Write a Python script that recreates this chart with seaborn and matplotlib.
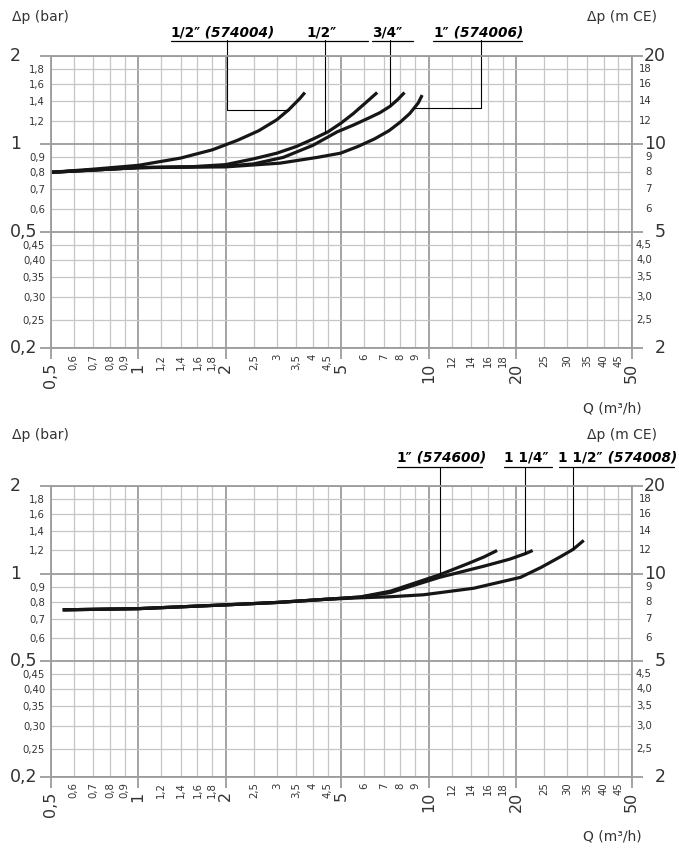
import numpy as np
import pandas as pd
import matplotlib
matplotlib.use("Agg")
import matplotlib.pyplot as plt
import seaborn as sns
from matplotlib import font_manager
from matplotlib.transforms import blended_transform_factory
from matplotlib.lines import Line2D

# ---------------- axis ticks / labels ----------------
x_major = [0.5, 1, 2, 5, 10, 20, 50]
x_major_labels = ['0,5', '1', '2', '5', '10', '20', '50']
x_minor = [0.6, 0.7, 0.8, 0.9, 1.2, 1.4, 1.6, 1.8, 2.5, 3, 3.5, 4, 4.5,
           6, 7, 8, 9, 12, 14, 16, 18, 25, 30, 35, 40, 45]
x_minor_labels = ['0,6', '0,7', '0,8', '0,9', '1,2', '1,4', '1,6', '1,8', '2,5', '3', '3,5', '4', '4,5',
                  '6', '7', '8', '9', '12', '14', '16', '18', '25', '30', '35', '40', '45']
y_major = [0.2, 0.5, 1, 2]
y_major_labels = ['0,2', '0,5', '1', '2']
y_minor = [0.25, 0.30, 0.35, 0.40, 0.45, 0.6, 0.7, 0.8, 0.9, 1.2, 1.4, 1.6, 1.8]
y_minor_labels = ['0,25', '0,30', '0,35', '0,40', '0,45', '0,6', '0,7', '0,8', '0,9', '1,2', '1,4', '1,6', '1,8']
mce_major = [2, 5, 10, 20]
mce_major_labels = ['2', '5', '10', '20']
mce_minor = [2.5, 3.0, 3.5, 4.0, 4.5, 6, 7, 8, 9, 12, 14, 16, 18]
mce_minor_labels = ['2,5', '3,0', '3,5', '4,0', '4,5', '6', '7', '8', '9', '12', '14', '16', '18']

# ---------------- top chart series ----------------
q_574004 = [0.5, 0.7, 1.0, 1.4, 1.8, 2.2, 2.6, 3.0, 3.3, 3.6, 3.75]
dp_574004 = [0.80, 0.82, 0.845, 0.895, 0.955, 1.03, 1.11, 1.21, 1.31, 1.43, 1.50]
q_12 = [0.5, 1, 1.5, 2, 2.5, 3, 3.5, 4, 4.5, 5, 5.5, 6, 6.65]
dp_12 = [0.80, 0.83, 0.835, 0.85, 0.89, 0.93, 0.98, 1.04, 1.10, 1.18, 1.27, 1.37, 1.50]
q_34 = [0.5, 1, 2, 2.5, 3.16, 4, 4.84, 5.5, 6.2, 6.8, 7.36, 7.8, 8.26]
dp_34 = [0.80, 0.83, 0.84, 0.855, 0.90, 0.99, 1.10, 1.16, 1.225, 1.28, 1.345, 1.415, 1.50]
q_574006 = [0.5, 1, 2, 3.08, 4.14, 4.97, 5.7, 6.5, 7.3, 8.0, 8.6, 9.2, 9.5]
dp_574006 = [0.80, 0.83, 0.835, 0.86, 0.90, 0.93, 0.98, 1.04, 1.11, 1.19, 1.27, 1.38, 1.47]

# ---------------- bottom chart series ----------------
q_574600 = [0.55, 1, 2, 3, 4.4, 5.8, 7.4, 10.9, 13.6, 15.5, 17.2]
dp_574600 = [0.75, 0.757, 0.78, 0.795, 0.815, 0.83, 0.87, 0.99, 1.08, 1.14, 1.20]
q_114 = [0.55, 1, 2, 3, 4.4, 5.8, 7.4, 10.9, 15.5, 19.0, 21.5, 22.8]
dp_114 = [0.75, 0.757, 0.78, 0.795, 0.815, 0.83, 0.86, 0.97, 1.06, 1.12, 1.17, 1.20]
q_574008 = [0.55, 1, 2, 3, 4.4, 5.8, 7.4, 9.6, 14.3, 20.7, 24.4, 28.5, 31.4, 34.2]
dp_574008 = [0.75, 0.757, 0.78, 0.795, 0.815, 0.825, 0.832, 0.845, 0.89, 0.97, 1.05, 1.144, 1.21, 1.30]

top_series = {
    '1/2″ (574004)': (q_574004, dp_574004),
    '1/2″': (q_12, dp_12),
    '3/4″': (q_34, dp_34),
    '1″ (574006)': (q_574006, dp_574006),
}
bottom_series = {
    '1″ (574600)': (q_574600, dp_574600),
    '1 1/4″': (q_114, dp_114),
    '1 1/2″ (574008)': (q_574008, dp_574008),
}

# ---------------- style ----------------
sns.set_theme(style="white")
plt.rcParams['font.family'] = ['DejaVu Sans']
avail = {f.name for f in font_manager.fontManager.ttflist}
label_family = (['Liberation Sans Narrow'] if 'Liberation Sans Narrow' in avail else []) + ['DejaVu Sans']

W, H = 679, 848
MAJ_C = '#9c9c9c'
MIN_C = '#c6c6c6'
TXT_C = '#333333'
CURVE_C = '#161616'

fig = plt.figure(figsize=(W / 100, H / 100), dpi=100)
fig.patch.set_facecolor('white')


def make_axes(top_px, bottom_px):
    left_px, right_px = 50.7, 631.7
    ax = fig.add_axes([left_px / W, 1 - bottom_px / H, (right_px - left_px) / W, (bottom_px - top_px) / H])
    ax.set_xscale('log')
    ax.set_yscale('log')
    ax.set_xlim(0.5, 50)
    ax.set_ylim(0.2, 2)
    ax.set_xticks(x_major, labels=x_major_labels)
    ax.set_xticks(x_minor, labels=x_minor_labels, minor=True)
    ax.set_yticks(y_major, labels=['' for _ in y_major])
    ax.set_yticks(y_minor, labels=y_minor_labels, minor=True)
    ax.set_axisbelow(True)
    ax.grid(which='major', color=MAJ_C, lw=1.3)
    ax.grid(which='minor', color=MIN_C, lw=0.9)
    for s in ax.spines.values():
        s.set_visible(True)
        s.set_color(MAJ_C)
        s.set_linewidth(1.3)
    ax.tick_params(axis='x', which='major', bottom=True, direction='out', length=8, width=1.3,
                   color=MAJ_C, pad=2.5, labelsize=11.5, labelrotation=90, labelcolor=TXT_C)
    ax.tick_params(axis='x', which='minor', bottom=True, length=0, pad=4, labelsize=7.3,
                   labelrotation=90, labelcolor=TXT_C)
    ax.tick_params(axis='y', which='major', left=True, right=True, direction='out', length=8,
                   width=1.3, color=MAJ_C, labelleft=False)
    ax.tick_params(axis='y', which='minor', left=True, length=0, pad=4, labelsize=7.3, labelcolor=TXT_C)
    tr = blended_transform_factory(fig.transFigure, ax.transData)
    for v, lab in zip(y_major, y_major_labels):
        ax.text(10 / W, v, lab, transform=tr, ha='left', va='center', fontsize=12.5, color=TXT_C)
    for v, lab in zip(mce_major, mce_major_labels):
        ax.text(666 / W, v / 10, lab, transform=tr, ha='right', va='center', fontsize=12.5, color=TXT_C)
    for v, lab in zip(mce_minor, mce_minor_labels):
        ax.text(652 / W, v / 10, lab, transform=tr, ha='right', va='center', fontsize=7.3, color=TXT_C)
    return ax


def draw_curves(ax, series):
    rows = []
    for name, (q, dp) in series.items():
        for a, b in zip(q, dp):
            rows.append((name, a, b))
    df = pd.DataFrame(rows, columns=['series', 'Q', 'dp'])
    sns.lineplot(data=df, x='Q', y='dp', units='series', estimator=None, sort=False,
                 color=CURVE_C, lw=2.3, ax=ax, legend=False)
    ax.set_xlabel('')
    ax.set_ylabel('')
    for ln in ax.lines:
        ln.set_solid_capstyle('butt')
        ln.set_solid_joinstyle('round')


def dp_at(series, name, qv):
    q, dp = series[name]
    return float(10 ** np.interp(np.log10(qv), np.log10(q), np.log10(dp)))


def py_to_dp(ax, py):
    return ax.transData.inverted().transform((0, H - py))[1]


ax1 = make_axes(56, 348.3)
ax2 = make_axes(486, 776.7)
draw_curves(ax1, top_series)
draw_curves(ax2, bottom_series)

# axis titles
for y_t, y_q in [(17.5, 408), (435, 836)]:
    fig.text(11.5 / W, 1 - y_t / H, 'Δp (bar)', ha='left', va='center', fontsize=10, color=TXT_C)
    fig.text(657 / W, 1 - y_t / H, 'Δp (m CE)', ha='right', va='center', fontsize=10, color=TXT_C)
    fig.text(642 / W, 1 - y_q / H, 'Q (m³/h)', ha='right', va='center', fontsize=10, color=TXT_C)

# curve labels
fig.canvas.draw()
renderer = fig.canvas.get_renderer()
probe = fig.text(0, 0, '1/2″ (574004)', fontsize=10, fontweight='bold', family=label_family)
w_probe = probe.get_window_extent(renderer).width
probe.remove()
LAB_FS = 10 * 105 / w_probe


def put_label(x_px, base_px, main, extra=None):
    t = fig.text(x_px / W, 1 - base_px / H, main, ha='left', va='baseline', fontsize=LAB_FS,
                 fontweight='bold', family=label_family, color='black')
    if extra:
        bb = t.get_window_extent(renderer)
        fig.text(bb.x1 / W, 1 - base_px / H, ' ' + extra, ha='left', va='baseline', fontsize=LAB_FS,
                 fontweight='bold', fontstyle='italic', family=label_family, color='black')


def underline(x0, x1, y):
    fig.add_artist(Line2D([x0 / W, x1 / W], [1 - y / H, 1 - y / H], color='black', lw=0.9))


put_label(170, 37, '1/2″', '(574004)')
put_label(306.5, 37, '1/2″')
put_label(372, 37, '3/4″')
put_label(433, 37, '1″', '(574006)')
underline(171, 368, 40.5)
underline(372, 413, 40.5)
underline(433, 522, 40.5)

put_label(396.5, 462, '1″', '(574600)')
put_label(503.5, 462, '1 1/4″')
put_label(558.5, 462, '1 1/2″', '(574008)')
underline(396.5, 481.5, 466.7)
underline(503.5, 551.5, 466.7)
underline(558.5, 673.5, 466.7)

# leader lines (anchored on the curves)
LW_L = 0.8
top1 = py_to_dp(ax1, 40.5)
q_v, q_a = 2.02, 3.3
d_a = dp_at(top_series, '1/2″ (574004)', q_a)
ax1.plot([q_v, q_v, q_a], [top1, d_a, d_a], color='black', lw=LW_L, clip_on=False)
q_a = 4.4
ax1.plot([q_a, q_a], [top1, dp_at(top_series, '1/2″', q_a)], color='black', lw=LW_L, clip_on=False)
q_a = 7.36
ax1.plot([q_a, q_a], [top1, dp_at(top_series, '3/4″', q_a)], color='black', lw=LW_L, clip_on=False)
q_v, q_a = 15.1, 8.9
d_a = dp_at(top_series, '1″ (574006)', q_a)
ax1.plot([q_v, q_v, q_a], [top1, d_a, d_a], color='black', lw=LW_L, clip_on=False)

top2 = py_to_dp(ax2, 466.7)
for name, q_a in [('1″ (574600)', 10.94), ('1 1/4″', 21.5), ('1 1/2″ (574008)', 31.4)]:
    ax2.plot([q_a, q_a], [top2, dp_at(bottom_series, name, q_a)], color='black', lw=LW_L, clip_on=False)

fig.savefig('out.png', dpi=100, facecolor='white')
